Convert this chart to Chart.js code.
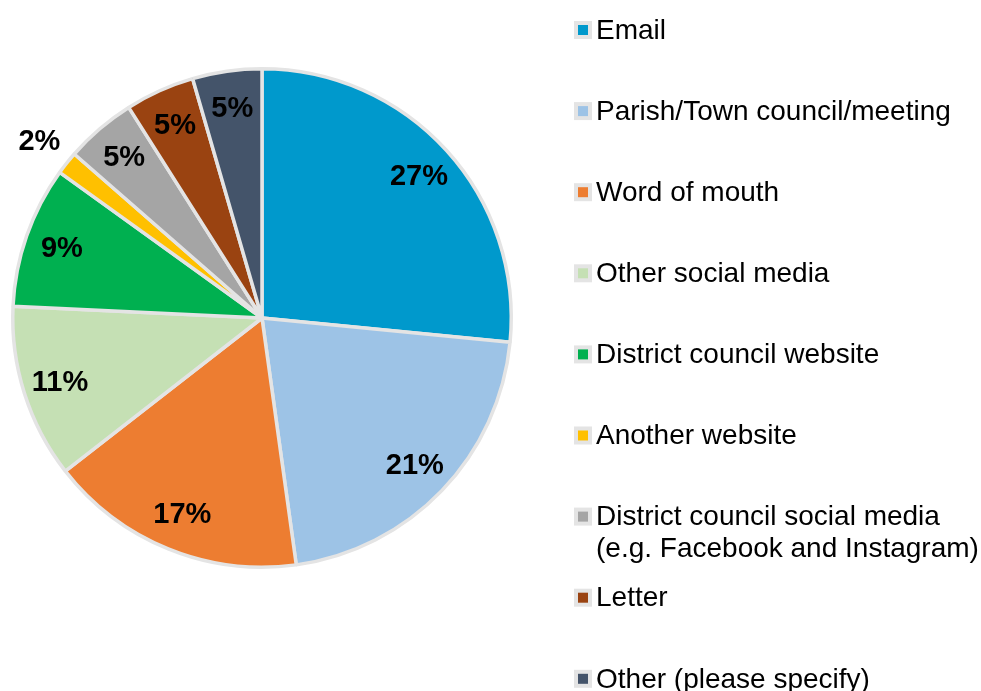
<!DOCTYPE html>
<html>
<head>
<meta charset="utf-8">
<script src="https://cdn.jsdelivr.net/npm/chart.js@4/dist/chart.umd.min.js"></script>
<style>
html,body{margin:0;padding:0;background:#ffffff;}
canvas{display:block;}
</style>
</head>
<body>
<canvas id="c" width="981" height="691"></canvas>
<script>
const categories = [
  'Email',
  'Parish/Town council/meeting',
  'Word of mouth',
  'Other social media',
  'District council website',
  'Another website',
  ['District council social media', '(e.g. Facebook and Instagram)'],
  'Letter',
  'Other (please specify)'
];
const percentages = [26.6, 21.3, 16.7, 11.3, 9.2, 1.5, 4.6, 4.5, 4.5];
const sliceColors = ['#0099CC', '#9DC3E6', '#ED7D31', '#C5E0B4', '#00B050', '#FFC000', '#A5A5A5', '#9A4311', '#44546A'];

const FONT = 'Arial, "Liberation Sans", sans-serif';

const pieLabels = {
  id: 'pieLabels',
  afterDatasetsDraw(chart) {
    const ctx = chart.ctx;
    const meta = chart.getDatasetMeta(0);
    ctx.save();
    ctx.font = 'bold 29px ' + FONT;
    ctx.fillStyle = '#000000';
    ctx.textAlign = 'center';
    ctx.textBaseline = 'middle';
    meta.data.forEach((arc, i) => {
      const p = arc.getProps(['x', 'y', 'startAngle', 'endAngle', 'outerRadius']);
      const mid = (p.startAngle + p.endAngle) / 2;
      const share = percentages[i];
      const r = share < 3 ? p.outerRadius * 1.14 : p.outerRadius * 0.85;
      const x = p.x + Math.cos(mid) * r;
      const y = p.y + Math.sin(mid) * r + 1;
      ctx.fillText(Math.round(share) + '%', x, y);
    });
    ctx.restore();
  }
};

const sideLegend = {
  id: 'sideLegend',
  afterDraw(chart) {
    const ctx = chart.ctx;
    ctx.save();
    ctx.font = '28px ' + FONT;
    ctx.textBaseline = 'middle';
    ctx.textAlign = 'left';
    const x0 = 574, y0 = 30, step = 81.1, lineH = 32;
    categories.forEach((lab, i) => {
      const y = y0 + step * i;
      ctx.fillStyle = '#E4E4E4';
      ctx.fillRect(x0, y - 9, 18, 18);
      ctx.fillStyle = sliceColors[i];
      ctx.fillRect(x0 + 4, y - 5, 10, 10);
      ctx.fillStyle = '#000000';
      const lines = Array.isArray(lab) ? lab : [lab];
      lines.forEach((t, j) => ctx.fillText(t, x0 + 22, y + 1 + j * lineH));
    });
    ctx.restore();
  }
};

new Chart(document.getElementById('c'), {
  type: 'pie',
  data: {
    labels: categories,
    datasets: [{
      data: percentages,
      backgroundColor: sliceColors,
      borderColor: '#E4E4E4',
      borderWidth: 3.5
    }]
  },
  options: {
    responsive: false,
    animation: false,
    layout: { padding: { left: 11, top: 67, right: 468, bottom: 122 } },
    plugins: {
      legend: { display: false },
      tooltip: { enabled: false }
    }
  },
  plugins: [pieLabels, sideLegend]
});
</script>
</body>
</html>
